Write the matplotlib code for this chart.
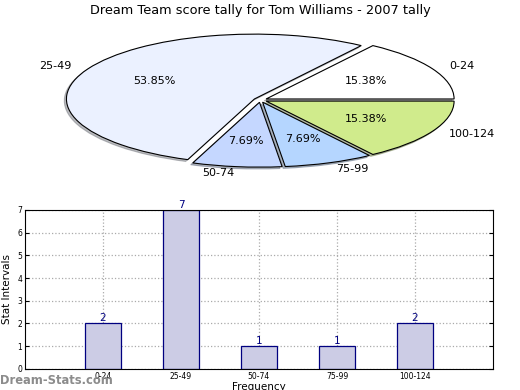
import numpy as np
import matplotlib
matplotlib.use('Agg')
import matplotlib.pyplot as plt

# Data
intervals = ['0-24', '25-49', '50-74', '75-99', '100-124']
counts = [2, 7, 1, 1, 2]
pie_colors = ['#FFFFFF', '#EBF1FF', '#C5D7FF', '#B5D6FF', '#D0EB8C']

fig = plt.figure(figsize=(5.2, 3.9), dpi=100)

# Pie chart (stretched into an ellipse like the original)
ax_pie = fig.add_axes([0.007, 0.519, 0.987, 0.449])
ax_pie.pie(counts, labels=intervals, colors=pie_colors, autopct='%1.2f%%',
           explode=[0.035] * len(counts),
           shadow={'ox': -0.008, 'oy': -0.02, 'shade': 0.5}, startangle=0,
           wedgeprops={'edgecolor': 'black', 'linewidth': 0.8},
           textprops={'fontsize': 8})
ax_pie.set_aspect('auto')
ax_pie.set_xlim(-1.365, 1.365)
ax_pie.set_ylim(-1.35, 1.35)
fig.text(0.5, 0.972, 'Dream Team score tally for Tom Williams - 2007 tally',
         ha='center', va='center', fontsize=9.3)

# Bar chart
ax_bar = fig.add_axes([0.048, 0.054, 0.9, 0.408])
x = np.arange(1, len(counts) + 1)
ax_bar.bar(x, counts, width=0.46, color='#CCCCE5', edgecolor='#000080',
           linewidth=0.9, zorder=2)
for xi, c in zip(x, counts):
    ax_bar.text(xi, c, str(c), ha='center', va='bottom', color='#000080',
                fontsize=7.5)
ax_bar.set_xlim(0, 6)
ax_bar.set_ylim(0, 7)
ax_bar.set_xticks(x)
ax_bar.set_xticklabels(intervals)
ax_bar.set_yticks(range(0, 8))
ax_bar.tick_params(labelsize=5.5, direction='in', length=3, right=True,
                   top=False, pad=2)
ax_bar.grid(True, linestyle=':', color='#AAAAAA', linewidth=0.9, zorder=0)
ax_bar.set_ylabel('Stat Intervals', fontsize=7.5, labelpad=4)
ax_bar.set_xlabel('Frequency', fontsize=7.5, labelpad=1)

fig.text(0.0, 0.025, 'Dream-Stats.com', color='#8C8C8C', fontsize=8.3,
         fontweight='semibold', ha='left', va='center')

fig.savefig('out.png', dpi=100)
